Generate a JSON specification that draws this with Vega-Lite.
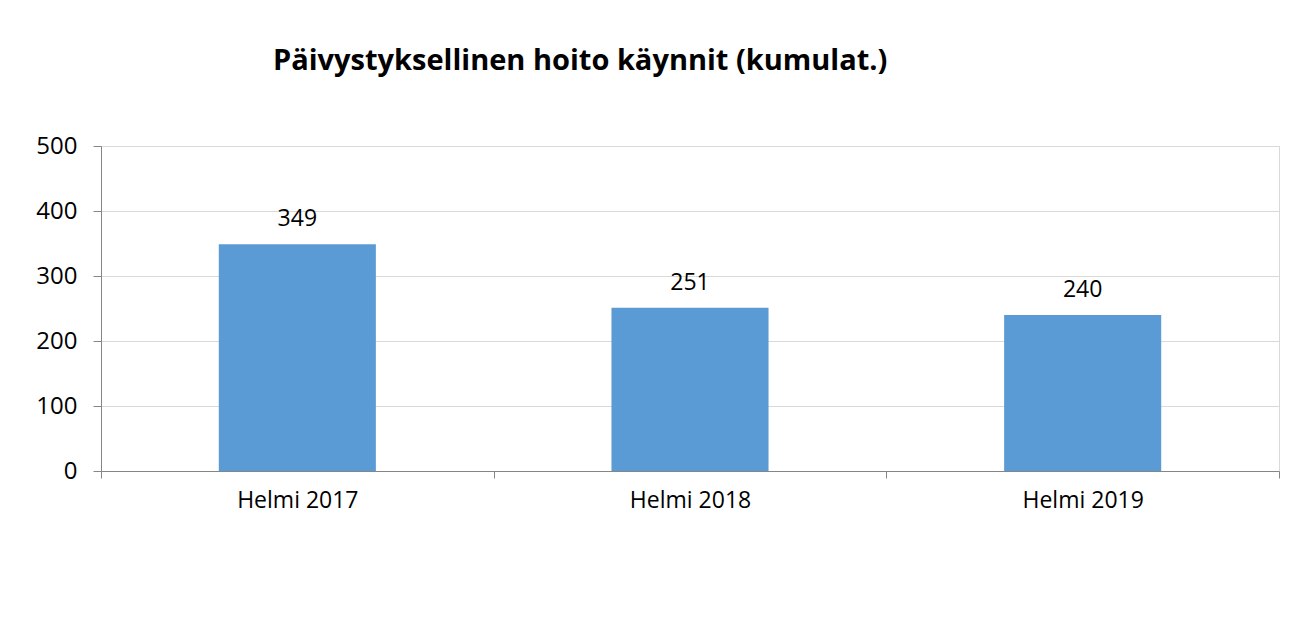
{
  "$schema": "https://vega.github.io/schema/vega-lite/v6.json",
  "autosize": {"type": "none"},
  "width": 1178,
  "height": 325,
  "padding": {"left": 101, "top": 146, "right": 27, "bottom": 168},
  "background": "white",
  "title": {
    "text": "Päivystyksellinen hoito käynnit (kumulat.)",
    "font": "Open Sans",
    "fontSize": 29,
    "fontWeight": "bold",
    "color": "#000000",
    "anchor": "start",
    "frame": "group",
    "dx": 172,
    "offset": 58
  },
  "data": {
    "values": [
      {"kuukausi": "Helmi 2017", "kaynnit": 349},
      {"kuukausi": "Helmi 2018", "kaynnit": 251},
      {"kuukausi": "Helmi 2019", "kaynnit": 240}
    ]
  },
  "encoding": {
    "x": {
      "field": "kuukausi",
      "type": "nominal",
      "sort": null,
      "scale": {"paddingInner": 0, "paddingOuter": 0},
      "axis": {
        "title": null,
        "labelAngle": 0,
        "labelFont": "Open Sans",
        "labelFontSize": 23,
        "labelColor": "#000000",
        "labelPadding": 11,
        "tickBand": "extent",
        "tickSize": 7,
        "tickColor": "#868686",
        "domainColor": "#868686",
        "grid": false
      }
    },
    "y": {
      "field": "kaynnit",
      "type": "quantitative",
      "scale": {"domain": [0, 500], "nice": false},
      "axis": {
        "title": null,
        "values": [0, 100, 200, 300, 400, 500],
        "labelFont": "Open Sans",
        "labelFontSize": 24,
        "labelColor": "#000000",
        "labelPadding": 16,
        "tickSize": 8,
        "tickColor": "#868686",
        "domainColor": "#868686",
        "gridColor": "#d9d9d9",
        "gridWidth": 1
      }
    }
  },
  "layer": [
    {
      "mark": {"type": "bar", "color": "#5b9bd5", "width": {"band": 0.4}}
    },
    {
      "mark": {
        "type": "text",
        "font": "Open Sans",
        "fontSize": 23,
        "color": "#000000",
        "baseline": "alphabetic",
        "dy": -18
      },
      "encoding": {"text": {"field": "kaynnit", "type": "quantitative"}}
    }
  ],
  "config": {
    "view": {"stroke": "#d9d9d9", "strokeWidth": 1}
  }
}
